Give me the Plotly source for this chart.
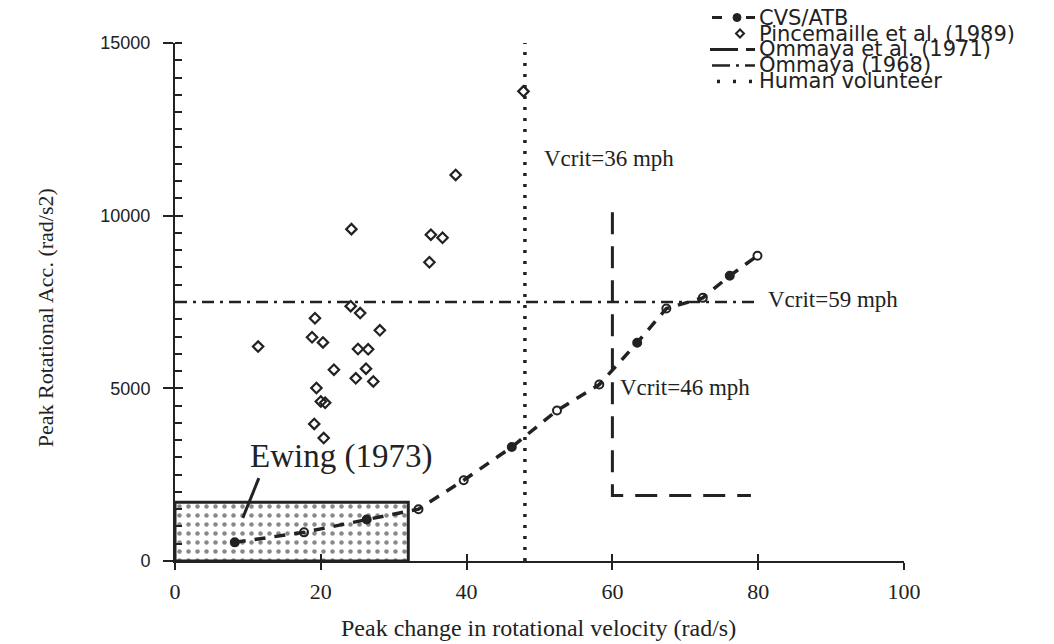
import plotly.graph_objects as go

# ---------------- data ----------------
cvs_vel = [8.2, 17.7, 26.3, 33.4, 39.6, 46.2, 52.4, 58.2, 63.4, 67.4, 72.4, 76.1, 79.9]
cvs_acc = [540, 830, 1200, 1500, 2340, 3300, 4360, 5110, 6320, 7310, 7620, 8260, 8840]
cvs_filled = [True, False, True, False, False, True, False, False, True, False, False, True, False]

pince_vel = [38.5, 24.2, 35.1, 36.7, 34.9, 24.1, 25.4, 19.2, 28.1, 11.4, 18.8, 20.3,
             25.1, 26.5, 21.8, 26.2, 24.8, 27.2, 19.4, 20.0, 20.6, 19.1, 20.4, 47.8]
pince_acc = [11180, 9610, 9450, 9360, 8650, 7380, 7180, 7030, 6680, 6210, 6480, 6330,
             6140, 6130, 5540, 5570, 5290, 5200, 5010, 4620, 4580, 3970, 3560, 13600]

ommaya71_vel = [60, 60, 79]
ommaya71_acc = [10100, 1900, 1900]

ommaya68_vel = [0, 80]
ommaya68_acc = [7500, 7500]

human_vel = [48, 48]
human_acc = [0, 15000]

ewing_vel_range = [0, 32]
ewing_acc = 1700

x_ticks = [0, 20, 40, 60, 80, 100]
x_ticktext = ["0", "20", "40", "60", "80", "100"]
y_ticks = [0, 5000, 10000, 15000]
y_ticktext = ["0", "5000", "10000", "15000"]

legend_labels = ["CVS/ATB", "Pincemaille et al. (1989)", "Ommaya et al. (1971)",
                 "Ommaya (1968)", "Human volunteer"]

# ---------------- style / layout ----------------
INK = "#222222"
OFF = 8                      # page body margin
W, H = 1054 - OFF, 644 - OFF
PL, PR, PT, PB = 175, 904, 42.5, 561     # plot area in window pixels
L, T = PL - OFF, PT - OFF
R, B = (W + OFF) - PR, (H + OFF) - PB
PW, PH = PR - PL, PB - PT


def px_x(px):
    return (px - PL) / PW


def px_y(py):
    return (PB - py) / PH


fig = go.Figure()

# Ewing (1973) dotted box
fig.add_trace(go.Bar(
    x=[(ewing_vel_range[0] + ewing_vel_range[1]) / 2], y=[ewing_acc],
    width=[ewing_vel_range[1] - ewing_vel_range[0]],
    marker=dict(color="white", line=dict(color=INK, width=3),
                pattern=dict(shape=".", fgcolor="#111111", bgcolor="white", size=9, solidity=0.2)),
    hoverinfo="skip", showlegend=False))

# Human volunteer (dotted vertical)
fig.add_trace(go.Scatter(x=human_vel, y=human_acc, mode="lines",
                         line=dict(color=INK, width=3.5, dash="3px,8px"), name=legend_labels[4]))
# Ommaya (1968) dash-dot horizontal
fig.add_trace(go.Scatter(x=ommaya68_vel, y=ommaya68_acc, mode="lines",
                         line=dict(color=INK, width=2.5, dash="12px,6px,3px,6px"), name=legend_labels[3]))
# Ommaya et al. (1971) long dash
fig.add_trace(go.Scatter(x=ommaya71_vel, y=ommaya71_acc, mode="lines",
                         line=dict(color=INK, width=3, dash="22px,12px"), name=legend_labels[2]))
# CVS/ATB
fig.add_trace(go.Scatter(x=cvs_vel, y=cvs_acc, mode="lines+markers",
                         line=dict(color=INK, width=3.5, dash="11px,9px"),
                         marker=dict(symbol=["circle" if f else "circle-open" for f in cvs_filled],
                                     size=8, color=INK, line=dict(color=INK, width=2)),
                         name=legend_labels[0]))
# Pincemaille
fig.add_trace(go.Scatter(x=pince_vel, y=pince_acc, mode="markers",
                         marker=dict(symbol="diamond-open", size=8, color=INK, line=dict(color=INK, width=2.2)),
                         name=legend_labels[1]))

common = dict(showgrid=False, zeroline=False)
fig.update_layout(
    width=W, height=H, margin=dict(l=L, r=R, t=T, b=B, pad=0),
    plot_bgcolor="white", paper_bgcolor="white", showlegend=False,
    xaxis=dict(range=[0, 100], tickvals=x_ticks, ticktext=x_ticktext, ticks="outside", ticklen=7,
               tickwidth=2, tickcolor=INK, showline=True, linecolor=INK, linewidth=2,
               tickfont=dict(family="Liberation Serif", size=22, color=INK), ticklabelstandoff=3, **common),
    yaxis=dict(range=[0, 15000], tickvals=y_ticks, ticktext=y_ticktext, ticks="outside", ticklen=10,
               tickwidth=2, tickcolor=INK, showline=True, linecolor=INK, linewidth=2,
               tickfont=dict(family="Liberation Sans", size=18, color=INK), ticklabelstandoff=9,
               minor=dict(dtick=500, tick0=0, ticks="inside", ticklen=7, tickwidth=1.5, tickcolor=INK),
               **common),
    # overlay axes: inner half of the crossing major ticks
    xaxis2=dict(overlaying="x", matches="x", range=[0, 100], tickvals=x_ticks, ticks="inside", ticklen=7,
                tickwidth=2, tickcolor=INK, showticklabels=False, showline=False, **common),
    yaxis2=dict(overlaying="y", matches="y", range=[0, 15000], tickvals=y_ticks, ticks="inside", ticklen=8,
                tickwidth=2, tickcolor=INK, showticklabels=False, showline=False, **common),
)
# dummy invisible trace to activate overlay axes
fig.add_trace(go.Scatter(x=[None], y=[None], xaxis="x2", yaxis="y2", showlegend=False, hoverinfo="skip"))

annotations = [
    dict(x=50.3, y=11666, xref="x", yref="y", text="Vcrit=36 mph", xanchor="left", yanchor="middle",
         showarrow=False, font=dict(family="Liberation Serif", size=23, color=INK)),
    dict(x=81.1, y=7580, xref="x", yref="y", text="Vcrit=59 mph", xanchor="left", yanchor="middle",
         showarrow=False, font=dict(family="Liberation Serif", size=23, color=INK)),
    dict(x=60.8, y=5030, xref="x", yref="y", text="Vcrit=46 mph", xanchor="left", yanchor="middle",
         showarrow=False, font=dict(family="Liberation Serif", size=23, color=INK)),
    dict(x=22.8, y=3030, xref="x", yref="y", text="Ewing (1973)", xanchor="center", yanchor="middle",
         showarrow=False, font=dict(family="Liberation Serif", size=33, color=INK)),
    dict(x=px_x(538), y=px_y(628), xref="paper", yref="paper", text="Peak change in rotational velocity (rad/s)",
         xanchor="center", yanchor="middle", showarrow=False,
         font=dict(family="Liberation Serif", size=24, color=INK)),
    dict(x=px_x(45), y=px_y(318), xref="paper", yref="paper", text="Peak Rotational Acc. (rad/s2)",
         textangle=-90, xanchor="center", yanchor="middle", showarrow=False,
         font=dict(family="Liberation Serif", size=22, color=INK)),
]

rows = [17, 33, 49, 65, 81]
for lab, ry in zip(legend_labels, rows):
    annotations.append(dict(x=px_x(757), y=px_y(ry), xref="paper", yref="paper", text=lab,
                            xanchor="left", yanchor="middle", showarrow=False,
                            font=dict(family="DejaVu Sans", size=21, color=INK)))

shapes = []
# Ewing pointer
shapes.append(dict(type="line", xref="x", yref="y", x0=11.5, y0=2400, x1=9.3, y1=1250,
                   line=dict(color=INK, width=3)))


def hseg(x0, x1, y, w=3):
    return dict(type="line", xref="paper", yref="paper", x0=px_x(x0), x1=px_x(x1),
                y0=px_y(y), y1=px_y(y), line=dict(color=INK, width=w))


# legend symbols
r = rows
shapes += [hseg(712, 722, r[0]), hseg(746, 755, r[0]),
           dict(type="circle", xref="paper", yref="paper", x0=px_x(733), x1=px_x(741),
                y0=px_y(r[0] + 4), y1=px_y(r[0] - 4), fillcolor=INK, line=dict(color=INK, width=1)),
           dict(type="path", xref="paper", yref="paper",
                path=f"M {px_x(740)},{px_y(r[1]-4)} L {px_x(744)},{px_y(r[1])} L {px_x(740)},{px_y(r[1]+4)} "
                     f"L {px_x(736)},{px_y(r[1])} Z", line=dict(color=INK, width=2)),
           hseg(710, 738, r[2]), hseg(746, 755, r[2]),
           hseg(712, 730, r[3], 2.5), hseg(736, 739, r[3], 2.5), hseg(745, 755, r[3], 2.5),
           hseg(717, 720, r[4], 3.5), hseg(733, 736, r[4], 3.5), hseg(749, 752, r[4], 3.5)]

fig.update_layout(annotations=annotations, shapes=shapes)
fig.write_html("out.html")
